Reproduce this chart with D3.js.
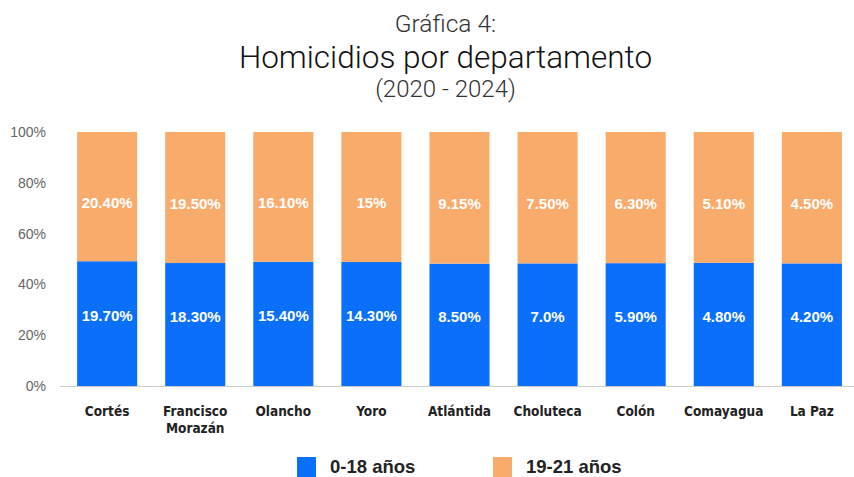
<!DOCTYPE html>
<html><head><meta charset="utf-8">
<script src="https://d3js.org/d3.v7.min.js"></script>
<style>
body{margin:0;background:#fff;}
svg{display:block;}
</style></head>
<body>
<script>
const categories = ["Cortés","Francisco Morazán","Olancho","Yoro","Atlántida","Choluteca","Colón","Comayagua","La Paz"];
const values0_18 = [19.70,18.30,15.40,14.30,8.50,7.0,5.90,4.80,4.20];
const values19_21 = [20.40,19.50,16.10,15,9.15,7.50,6.30,5.10,4.50];
const labels0_18 = ["19.70%","18.30%","15.40%","14.30%","8.50%","7.0%","5.90%","4.80%","4.20%"];
const labels19_21 = ["20.40%","19.50%","16.10%","15%","9.15%","7.50%","6.30%","5.10%","4.50%"];
const yTicks = [0,0.2,0.4,0.6,0.8,1];
const seriesNames = ["0-18 años","19-21 años"];
const colors = ["#0a70fc","#f9ab6c"];

const W=854,H=477;
const svg=d3.select("body").append("svg").attr("width",W).attr("height",H);
const titleFont="Roboto, 'Liberation Sans', sans-serif";

svg.append("text").attr("x",445.5).attr("y",32).attr("text-anchor","middle")
  .style("font-family",titleFont).style("font-weight",300).style("font-size","24.5px").attr("fill","#333").text("Gráfica 4:");
svg.append("text").attr("x",445.5).attr("y",68).attr("text-anchor","middle")
  .style("font-family",titleFont).style("font-weight",300).style("font-size","31.5px").attr("fill","#111").text("Homicidios por departamento");
svg.append("text").attr("x",445.5).attr("y",97).attr("text-anchor","middle")
  .style("font-family",titleFont).style("font-weight",300).style("font-size","24px").attr("fill","#333").text("(2020 - 2024)");

const data = categories.map((c,i)=>({cat:c,a:values0_18[i],b:values19_21[i],la:labels0_18[i],lb:labels19_21[i]}));
const stack = d3.stack().keys(["a","b"]).offset(d3.stackOffsetExpand);
const series = stack(data);

const x=d3.scaleBand().domain(categories).range([63,856]).paddingInner(0.318).paddingOuter(0.16);
const y=d3.scaleLinear().domain([0,1]).range([386,132]);

// y axis labels
const yAxis=d3.axisLeft(y).tickValues(yTicks).tickFormat(d3.format(".0%")).tickSize(0).tickPadding(0);
const gy=svg.append("g").attr("transform","translate(46,0)").call(yAxis);
gy.select(".domain").remove();
gy.selectAll("text").style("font-family","'Liberation Sans', Arial, sans-serif").style("font-size","14px").attr("fill","#666");

// x axis line
svg.append("line").attr("x1",60).attr("x2",854).attr("y1",386.5).attr("y2",386.5).attr("stroke","#ccc").attr("stroke-width",1);

const labelShift=[-8,6];
series.forEach((s,si)=>{
  svg.append("g").selectAll("rect").data(s).join("rect")
    .attr("x",d=>x(d.data.cat)).attr("width",x.bandwidth())
    .attr("y",d=>y(d[1])).attr("height",d=>y(d[0])-y(d[1]))
    .attr("fill",colors[si]);
  svg.append("g").selectAll("text").data(s).join("text")
    .attr("x",d=>x(d.data.cat)+x.bandwidth()/2)
    .attr("y",d=>(y(d[0])+y(d[1]))/2+labelShift[si])
    .attr("dy","0.36em")
    .attr("text-anchor","middle")
    .style("font-family","'Liberation Sans', Arial, sans-serif").style("font-weight","bold").style("font-size","15px")
    .attr("fill","#fff")
    .text(d=> si===0?d.data.la:d.data.lb);
});

// category labels
const catFont="'DejaVu Sans Condensed', 'Liberation Sans', Arial, sans-serif";
categories.forEach(c=>{
  const words = c==="Francisco Morazán"?["Francisco","Morazán"]:[c];
  const t=svg.append("text").attr("text-anchor","middle")
    .style("font-family",catFont).style("font-weight","bold").style("font-size","13.5px").attr("fill","#222");
  words.forEach((w,i)=>{
    t.append("tspan").attr("x",x(c)+x.bandwidth()/2).attr("y",416+i*17).text(w);
  });
});

// legend
const legX=[297,493];
seriesNames.forEach((n,i)=>{
  svg.append("rect").attr("x",legX[i]).attr("y",457).attr("width",19).attr("height",20).attr("fill",colors[i]);
  svg.append("text").attr("x",legX[i]+33).attr("y",473)
    .style("font-family","'Liberation Sans', Arial, sans-serif").style("font-weight","bold").style("font-size","18.5px")
    .attr("fill","#222").text(n);
});
</script>
</body></html>
